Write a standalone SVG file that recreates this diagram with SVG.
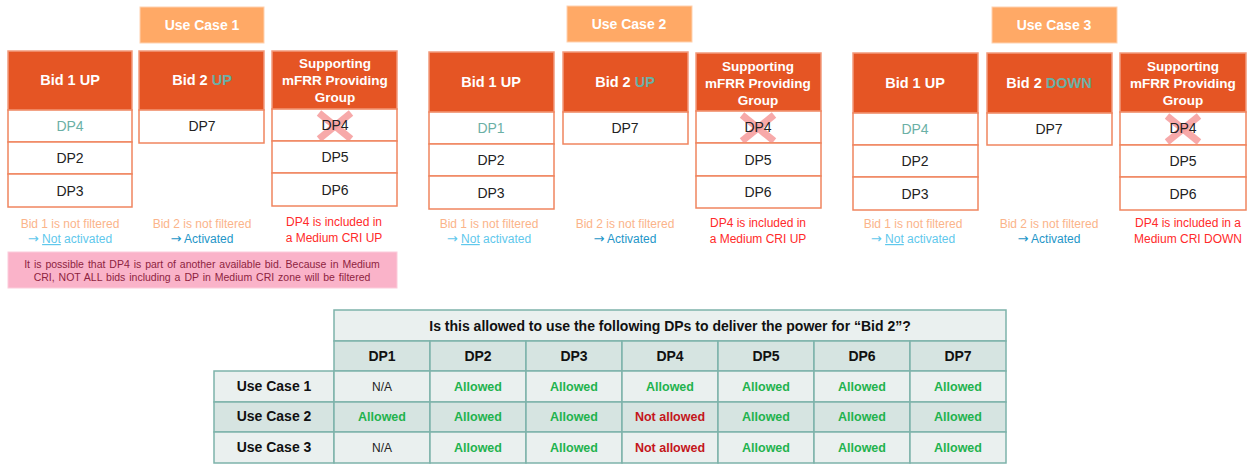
<svg xmlns="http://www.w3.org/2000/svg" width="1252" height="464" viewBox="0 0 1252 464">
<style>
text{font-family:"Liberation Sans",Arial,sans-serif;text-anchor:middle}
.ar{font-family:"DejaVu Sans",sans-serif;font-size:13px}
.uc{fill:#FFA966;stroke:#FFD2B0;stroke-width:1}
.uct{fill:#fff;font-weight:bold;font-size:14px}
.hd{fill:#E55524;stroke:#F29A7C;stroke-width:1.5}
.hdt{fill:#fff;font-weight:bold;font-size:14.5px}
.sg{fill:#fff;font-weight:bold;font-size:13.5px}
.cell{fill:#fff;stroke:#F0855F;stroke-width:1.5}
.dp{fill:#222;font-size:14px}
.tl{fill:#6BB0A5}
.nf{fill:#FBB48A;font-size:12px}
.na{fill:#5FC8EC;font-size:12px}
.ac{fill:#2396C8;font-size:12px}
.red{fill:#FF2A2A;font-size:12px}
.x{stroke:#F7A0A0;stroke-width:7;opacity:0.9}
.t1{fill:#EAF0EF;stroke:#7DB3AA;stroke-width:1.5}
.t2{fill:#D6E4E1;stroke:#7DB3AA;stroke-width:1.5}
.th{font-weight:bold;font-size:14px;fill:#111}
.al{font-weight:bold;font-size:12.5px;fill:#1FB34E}
.no{font-weight:bold;font-size:12.5px;fill:#C4161C}
.nt{font-size:12px;fill:#222}
</style>
<defs>
<g id="xm"><line class="x" x1="-16" y1="-13" x2="16" y2="13"/><line class="x" x1="16" y1="-13" x2="-16" y2="13"/></g>
</defs>

<g id="usecase1">
<rect class="uc" x="140" y="7" width="124" height="36"/>
<text class="uct" x="202" y="30">Use Case 1</text>
<g id="uc1-bid1">
<rect class="hd" x="8" y="51" width="124" height="59"/>
<text class="hdt" x="70" y="85">Bid 1 UP</text>
<rect class="cell" x="8" y="110" width="124" height="32"/>
<text class="dp tl" x="70" y="131">DP4</text>
<rect class="cell" x="8" y="142" width="124" height="32"/>
<text class="dp" x="70" y="163">DP2</text>
<rect class="cell" x="8" y="174" width="124" height="33"/>
<text class="dp" x="70" y="196">DP3</text>
</g>
<g id="uc1-bid2">
<rect class="hd" x="139" y="51" width="125" height="59"/>
<text class="hdt" x="202" y="85">Bid 2 <tspan fill="#6BB0A5">UP</tspan></text>
<rect class="cell" x="139" y="110" width="125" height="33"/>
<text class="dp" x="202" y="131">DP7</text>
</g>
<g id="uc1-group">
<rect class="hd" x="272" y="51" width="125" height="58"/>
<text class="sg" x="335" y="68">Supporting</text>
<text class="sg" x="335" y="85">mFRR Providing</text>
<text class="sg" x="335" y="102">Group</text>
<rect class="cell" x="272" y="109" width="125" height="32"/>
<use href="#xm" x="335" y="126"/>
<text class="dp" x="335" y="130">DP4</text>
<rect class="cell" x="272" y="141" width="125" height="32"/>
<text class="dp" x="335" y="162">DP5</text>
<rect class="cell" x="272" y="173" width="125" height="33"/>
<text class="dp" x="335" y="195">DP6</text>
</g>
<text class="nf" x="70" y="228">Bid 1 is not filtered</text>
<text class="na" x="70" y="243"><tspan class="ar">→</tspan> <tspan text-decoration="underline">Not</tspan> activated</text>
<text class="nf" x="202" y="228">Bid 2 is not filtered</text>
<text class="ac" x="202" y="243"><tspan class="ar">→</tspan> Activated</text>
<text class="red" x="334" y="226">DP4 is included in</text>
<text class="red" x="334" y="242">a Medium CRI UP</text>
<g id="uc1-note">
<rect x="8" y="252" width="389" height="36" fill="#FAB3C9" stroke="#FCCCDB"/>
<text x="202" y="268" font-size="10.5" fill="#8E1F3F" word-spacing="1">It is possible that DP4 is part of another available bid. Because in Medium</text>
<text x="202" y="281" font-size="10.5" fill="#8E1F3F" word-spacing="1">CRI, NOT ALL bids including a DP in Medium CRI zone will be filtered</text>
</g>
</g>

<g id="usecase2">
<rect class="uc" x="567" y="6" width="125" height="36"/>
<text class="uct" x="629" y="29">Use Case 2</text>
<g id="uc2-bid1">
<rect class="hd" x="429" y="52" width="125" height="60"/>
<text class="hdt" x="491" y="87">Bid 1 UP</text>
<rect class="cell" x="429" y="112" width="125" height="32"/>
<text class="dp tl" x="491" y="133">DP1</text>
<rect class="cell" x="429" y="144" width="125" height="32"/>
<text class="dp" x="491" y="165">DP2</text>
<rect class="cell" x="429" y="176" width="125" height="33"/>
<text class="dp" x="491" y="198">DP3</text>
</g>
<g id="uc2-bid2">
<rect class="hd" x="563" y="52" width="125" height="60"/>
<text class="hdt" x="625" y="87">Bid 2 <tspan fill="#6BB0A5">UP</tspan></text>
<rect class="cell" x="563" y="112" width="125" height="32"/>
<text class="dp" x="625" y="133">DP7</text>
</g>
<g id="uc2-group">
<rect class="hd" x="696" y="53" width="125" height="58"/>
<text class="sg" x="758" y="71">Supporting</text>
<text class="sg" x="758" y="88">mFRR Providing</text>
<text class="sg" x="758" y="105">Group</text>
<rect class="cell" x="696" y="111" width="125" height="32"/>
<use href="#xm" x="758" y="128"/>
<text class="dp" x="758" y="132">DP4</text>
<rect class="cell" x="696" y="143" width="125" height="33"/>
<text class="dp" x="758" y="165">DP5</text>
<rect class="cell" x="696" y="176" width="125" height="32"/>
<text class="dp" x="758" y="197">DP6</text>
</g>
<text class="nf" x="489" y="228">Bid 1 is not filtered</text>
<text class="na" x="489" y="243"><tspan class="ar">→</tspan> <tspan text-decoration="underline">Not</tspan> activated</text>
<text class="nf" x="625" y="228">Bid 2 is not filtered</text>
<text class="ac" x="625" y="243"><tspan class="ar">→</tspan> Activated</text>
<text class="red" x="758" y="227">DP4 is included in</text>
<text class="red" x="758" y="243">a Medium CRI UP</text>
</g>

<g id="usecase3">
<rect class="uc" x="992" y="7" width="125" height="36"/>
<text class="uct" x="1054" y="30">Use Case 3</text>
<g id="uc3-bid1">
<rect class="hd" x="853" y="53" width="125" height="60"/>
<text class="hdt" x="915" y="88">Bid 1 UP</text>
<rect class="cell" x="853" y="113" width="125" height="32"/>
<text class="dp tl" x="915" y="134">DP4</text>
<rect class="cell" x="853" y="145" width="125" height="32"/>
<text class="dp" x="915" y="166">DP2</text>
<rect class="cell" x="853" y="177" width="125" height="33"/>
<text class="dp" x="915" y="199">DP3</text>
</g>
<g id="uc3-bid2">
<rect class="hd" x="987" y="53" width="125" height="60"/>
<text class="hdt" x="1049" y="88">Bid 2 <tspan fill="#6BB0A5">DOWN</tspan></text>
<rect class="cell" x="987" y="113" width="125" height="32"/>
<text class="dp" x="1049" y="134">DP7</text>
</g>
<g id="uc3-group">
<rect class="hd" x="1120" y="53" width="126" height="59"/>
<text class="sg" x="1183" y="71">Supporting</text>
<text class="sg" x="1183" y="88">mFRR Providing</text>
<text class="sg" x="1183" y="105">Group</text>
<rect class="cell" x="1120" y="112" width="126" height="33"/>
<use href="#xm" x="1183" y="129"/>
<text class="dp" x="1183" y="133">DP4</text>
<rect class="cell" x="1120" y="145" width="126" height="32"/>
<text class="dp" x="1183" y="166">DP5</text>
<rect class="cell" x="1120" y="177" width="126" height="33"/>
<text class="dp" x="1183" y="199">DP6</text>
</g>
<text class="nf" x="913" y="228">Bid 1 is not filtered</text>
<text class="na" x="913" y="243"><tspan class="ar">→</tspan> <tspan text-decoration="underline">Not</tspan> activated</text>
<text class="nf" x="1049" y="228">Bid 2 is not filtered</text>
<text class="ac" x="1049" y="243"><tspan class="ar">→</tspan> Activated</text>
<text class="red" x="1188" y="227">DP4 is included in a</text>
<text class="red" x="1188" y="243">Medium CRI DOWN</text>
</g>

<g id="table">
<rect class="t1" x="334" y="310" width="672" height="31"/>
<text class="th" x="670" y="331" font-size="14.5">Is this allowed to use the following DPs to deliver the power for “Bid 2”?</text>
<rect class="t2" x="334" y="341" width="96" height="30"/>
<rect class="t2" x="430" y="341" width="96" height="30"/>
<rect class="t2" x="526" y="341" width="96" height="30"/>
<rect class="t2" x="622" y="341" width="96" height="30"/>
<rect class="t2" x="718" y="341" width="96" height="30"/>
<rect class="t2" x="814" y="341" width="96" height="30"/>
<rect class="t2" x="910" y="341" width="96" height="30"/>
<text class="th" x="382" y="361">DP1</text>
<text class="th" x="478" y="361">DP2</text>
<text class="th" x="574" y="361">DP3</text>
<text class="th" x="670" y="361">DP4</text>
<text class="th" x="766" y="361">DP5</text>
<text class="th" x="862" y="361">DP6</text>
<text class="th" x="958" y="361">DP7</text>

<rect class="t1" x="214" y="371" width="120" height="31"/>
<rect class="t1" x="334" y="371" width="96" height="31"/>
<rect class="t1" x="430" y="371" width="96" height="31"/>
<rect class="t1" x="526" y="371" width="96" height="31"/>
<rect class="t1" x="622" y="371" width="96" height="31"/>
<rect class="t1" x="718" y="371" width="96" height="31"/>
<rect class="t1" x="814" y="371" width="96" height="31"/>
<rect class="t1" x="910" y="371" width="96" height="31"/>
<text class="th" x="274" y="391">Use Case 1</text>
<text class="nt" x="382" y="391">N/A</text>
<text class="al" x="478" y="391">Allowed</text>
<text class="al" x="574" y="391">Allowed</text>
<text class="al" x="670" y="391">Allowed</text>
<text class="al" x="766" y="391">Allowed</text>
<text class="al" x="862" y="391">Allowed</text>
<text class="al" x="958" y="391">Allowed</text>

<rect class="t2" x="214" y="402" width="120" height="30"/>
<rect class="t2" x="334" y="402" width="96" height="30"/>
<rect class="t2" x="430" y="402" width="96" height="30"/>
<rect class="t2" x="526" y="402" width="96" height="30"/>
<rect class="t2" x="622" y="402" width="96" height="30"/>
<rect class="t2" x="718" y="402" width="96" height="30"/>
<rect class="t2" x="814" y="402" width="96" height="30"/>
<rect class="t2" x="910" y="402" width="96" height="30"/>
<text class="th" x="274" y="421">Use Case 2</text>
<text class="al" x="382" y="421">Allowed</text>
<text class="al" x="478" y="421">Allowed</text>
<text class="al" x="574" y="421">Allowed</text>
<text class="no" x="670" y="421">Not allowed</text>
<text class="al" x="766" y="421">Allowed</text>
<text class="al" x="862" y="421">Allowed</text>
<text class="al" x="958" y="421">Allowed</text>

<rect class="t1" x="214" y="432" width="120" height="31"/>
<rect class="t1" x="334" y="432" width="96" height="31"/>
<rect class="t1" x="430" y="432" width="96" height="31"/>
<rect class="t1" x="526" y="432" width="96" height="31"/>
<rect class="t1" x="622" y="432" width="96" height="31"/>
<rect class="t1" x="718" y="432" width="96" height="31"/>
<rect class="t1" x="814" y="432" width="96" height="31"/>
<rect class="t1" x="910" y="432" width="96" height="31"/>
<text class="th" x="274" y="452">Use Case 3</text>
<text class="nt" x="382" y="452">N/A</text>
<text class="al" x="478" y="452">Allowed</text>
<text class="al" x="574" y="452">Allowed</text>
<text class="no" x="670" y="452">Not allowed</text>
<text class="al" x="766" y="452">Allowed</text>
<text class="al" x="862" y="452">Allowed</text>
<text class="al" x="958" y="452">Allowed</text>
</g>
</svg>
